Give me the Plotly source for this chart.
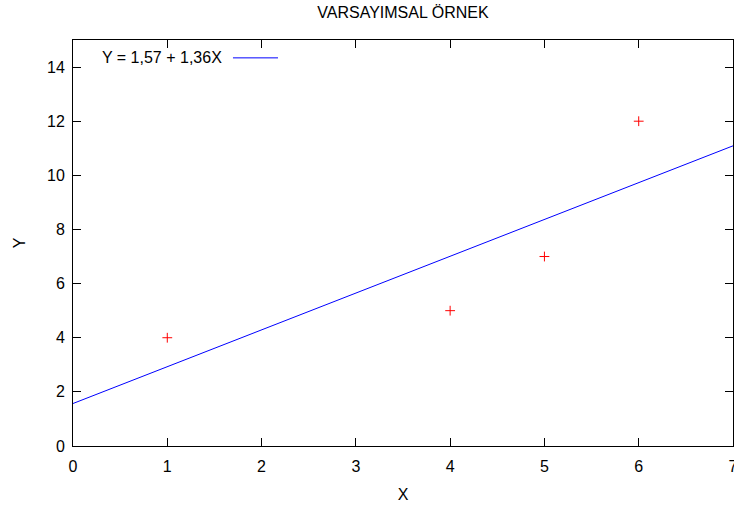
import plotly.graph_objects as go

# Data
x_points = [1, 4, 5, 6]
y_points = [4, 5, 7, 12]
intercept = 1.57
slope = 1.36
line_x = [0, 7]
line_y = [intercept + slope * v for v in line_x]
x_ticks = [0, 1, 2, 3, 4, 5, 6, 7]
y_ticks = [0, 2, 4, 6, 8, 10, 12, 14]
title_text = "VARSAYIMSAL ÖRNEK"
legend_text = "Y = 1,57 + 1,36X"

FONT = "Liberation Sans, Arial, sans-serif"
FS = 16

fig = go.Figure()
fig.add_trace(go.Scatter(
    x=x_points, y=y_points, mode="markers",
    marker=dict(symbol="cross-thin", size=7, line=dict(color="#ff0000", width=1)),
    showlegend=False, cliponaxis=False,
))
fig.add_trace(go.Scatter(
    x=line_x, y=line_y, mode="lines",
    line=dict(color="#0000ff", width=1),
    showlegend=False,
))

axis_common = dict(
    showline=True, linecolor="black", linewidth=1, mirror="ticks",
    ticks="inside", ticklen=8, tickcolor="black", tickwidth=1,
    showgrid=False, zeroline=False, automargin=False,
    tickfont=dict(family=FONT, size=FS, color="black"),
)
fig.update_xaxes(range=[0, 7], tickvals=x_ticks, ticktext=[str(v) for v in x_ticks],
                 title=dict(text="X", font=dict(family=FONT, size=FS, color="black"), standoff=14),
                 ticklabelstandoff=6, ticklabeloverflow="allow", **axis_common)
fig.update_yaxes(range=[0, 15], tickvals=y_ticks, ticktext=[str(v) for v in y_ticks],
                 title=dict(text="Y", font=dict(family=FONT, size=FS, color="black"), standoff=17),
                 ticklabelstandoff=4, **axis_common)

# Legend (gnuplot style: text then sample)
fig.add_annotation(xref="paper", yref="paper", x=0.2288, y=0.956, xanchor="right", yanchor="middle",
                   text=legend_text, showarrow=False, font=dict(family=FONT, size=FS, color="black"))
fig.add_shape(type="line", xref="paper", yref="paper", x0=0.2424, x1=0.3106, y0=0.956, y1=0.956,
              line=dict(color="#0000ff", width=1))

fig.update_layout(
    width=734, height=510,
    margin=dict(l=73, r=1, t=40, b=64),
    paper_bgcolor="white", plot_bgcolor="white",
    title=dict(text=title_text, x=0.549, xanchor="center", y=0.976, yanchor="middle",
               font=dict(family=FONT, size=FS, color="black")),
    font=dict(family=FONT, size=FS, color="black"),
)

fig.write_html("out.html")
